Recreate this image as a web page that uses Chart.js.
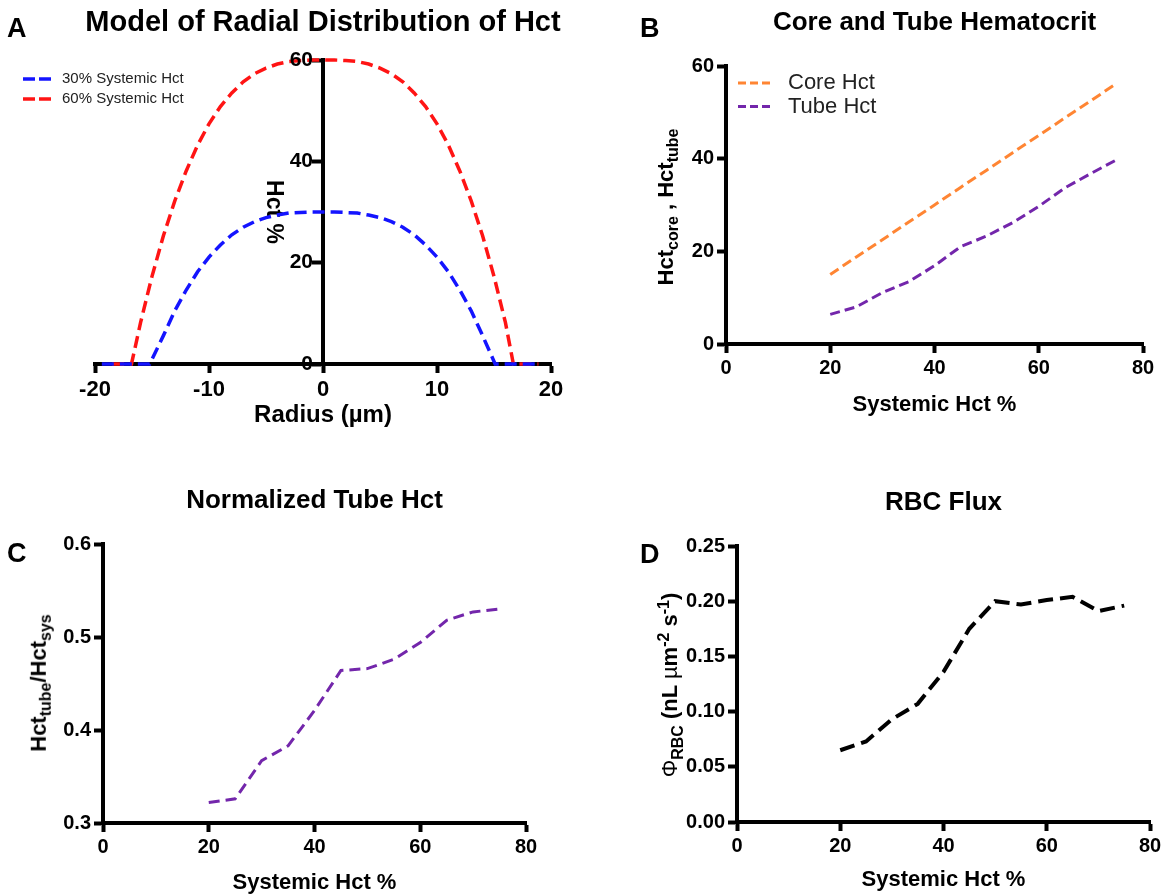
<!DOCTYPE html>
<html>
<head>
<meta charset="utf-8">
<title>Radial distribution of Hct</title>
<script src="https://cdn.jsdelivr.net/npm/chart.js@4.4.1/dist/chart.umd.min.js"></script>
<style>
  body { margin: 0; background: #fff; }
  #figure { position: relative; width: 1165px; height: 895px; overflow: hidden;
    font-family: "Liberation Sans", Arial, sans-serif; color: #000; }
  #figure canvas { position: absolute; }
  .letter { position: absolute; font-weight: bold; font-size: 27px; line-height: 1; }
  .ttl { position: absolute; font-weight: bold; font-size: 29px; line-height: 1; text-align: center; white-space: nowrap; }
  .ytitle { position: absolute; transform: translate(-50%, -50%) rotate(-90deg); white-space: nowrap;
    font-weight: bold; font-size: 22px; line-height: 1; }
  .ytitle sub, .ytitle sup { font-size: 16px; }
  .reg { font-weight: normal; }
</style>
</head>
<body>
<div id="figure">
  <canvas id="chart-a" width="600" height="430" style="left:0;top:0"></canvas>
  <canvas id="chart-b" width="565" height="430" style="left:600px;top:0"></canvas>
  <canvas id="chart-c" width="580" height="445" style="left:0;top:450px"></canvas>
  <canvas id="chart-d" width="565" height="445" style="left:600px;top:450px"></canvas>

  <div class="letter" style="left:7px;top:15px">A</div>
  <div class="letter" style="left:640px;top:15px">B</div>
  <div class="letter" style="left:7px;top:540px">C</div>
  <div class="letter" style="left:640px;top:541px">D</div>

  <div class="ttl" style="left:0;width:646px;top:7px">Model of Radial Distribution of Hct</div>

  <div class="ytitle" style="left:668px;top:207px">Hct<sub>core</sub> , Hct<sub>tube</sub></div>
  <div class="ytitle" style="left:41px;top:683px">Hct<sub>tube</sub>/Hct<sub>sys</sub></div>
  <div class="ytitle" style="left:671px;top:685px"><span class="reg">&Phi;</span><sub>RBC</sub> (nL <span class="reg">&micro;</span>m<sup>-2</sup> s<sup>-1</sup>)</div>
</div>

<script>
// panel A - radial profile, radius in um, Hct in %
const radius30 = [-19.4, -15.2, -14, -13, -12, -11, -10, -9, -8, -7, -6, -5, -4, -3, -2, -1,
  0, 1, 2, 3, 4, 5, 6, 7, 8, 9, 10, 11, 12, 13, 14, 15.1, 18.9];
const hct30 = [0, 0, 5.6, 10.5, 14.6, 18.2, 21.1, 23.5, 25.5, 27.0, 28.1, 28.9, 29.4, 29.8, 29.9, 30.0,
  30.0, 30.0, 29.9, 29.8, 29.4, 28.9, 28.1, 27.0, 25.5, 23.5, 21.1, 18.2, 14.6, 10.5, 5.6, 0, 0];
const radius60 = [-18.5, -16.8, -16, -15, -14, -13, -12, -11, -10, -9, -8, -7, -6, -5, -4, -3, -2, -1,
  0, 1, 2, 3, 4, 5, 6, 7, 8, 9, 10, 11, 12, 13, 14, 15, 16, 16.7, 18.9];
const hct60 = [0, 0, 8.2, 17.3, 25.3, 32.2, 38.1, 43.2, 47.4, 50.8, 53.5, 55.7, 57.3, 58.4, 59.2, 59.7, 59.9, 60.0,
  60.0, 60.0, 59.9, 59.7, 59.2, 58.4, 57.3, 55.7, 53.5, 50.8, 47.4, 43.2, 38.1, 32.2, 25.3, 17.3, 8.2, 0, 0];

// panels B-D - vs systemic Hct %
const systemicHct = [20, 25, 30, 35, 40, 45, 50, 55, 60, 65, 70, 75];
const coreHct = [15.0, 18.8, 22.5, 26.3, 30.0, 33.8, 37.5, 41.3, 45.0, 48.8, 52.5, 56.3];
const tubeHct = [6.4, 8.0, 11.1, 13.4, 16.9, 21.0, 23.3, 26.2, 29.7, 33.7, 36.8, 39.8];
const normTubeHct = [0.322, 0.326, 0.367, 0.383, 0.421, 0.464, 0.466, 0.476, 0.494, 0.518, 0.527, 0.530];
const rbcFlux = [0.065, 0.073, 0.093, 0.107, 0.136, 0.175, 0.200, 0.197, 0.201, 0.204, 0.191, 0.196];

const FONT = '"Liberation Sans", Arial, sans-serif';
Chart.defaults.font.family = FONT;
Chart.defaults.color = '#000';

const xy = (xs, ys) => xs.map((x, i) => ({ x: x, y: ys[i] }));

// legend drawn inside the plot, like the prism figure
const insetLegend = {
  id: 'insetLegend',
  afterDraw(chart, args, opts) {
    const ctx = chart.ctx;
    ctx.save();
    chart.data.datasets.forEach((ds, i) => {
      const y = opts.y + i * opts.rowGap;
      ctx.strokeStyle = ds.borderColor;
      ctx.lineWidth = opts.lineWidth;
      ctx.setLineDash(opts.dash);
      ctx.beginPath();
      ctx.moveTo(opts.x, y);
      ctx.lineTo(opts.x + opts.lineLen, y);
      ctx.stroke();
      ctx.setLineDash([]);
      ctx.fillStyle = '#222';
      ctx.font = opts.fontSize + 'px ' + FONT;
      ctx.textBaseline = 'middle';
      ctx.fillText(ds.label, opts.x + opts.lineLen + opts.textGap, y);
    });
    ctx.restore();
  }
};

// y labels for the axis that sits at radius 0 (chart.js puts them on the line)
const centerAxisLabels = {
  id: 'centerAxisLabels',
  afterDraw(chart, args, opts) {
    const ys = chart.scales.y;
    const x0 = chart.scales.x.getPixelForValue(0);
    const ctx = chart.ctx;
    ctx.save();
    ctx.fillStyle = '#000';
    ctx.font = 'bold ' + opts.fontSize + 'px ' + FONT;
    ctx.textAlign = 'right';
    ctx.textBaseline = 'middle';
    ys.ticks.forEach((t) => {
      ctx.fillText(String(t.value), x0 - opts.offset, ys.getPixelForValue(t.value));
    });
    ctx.restore();
  }
};

const border = { display: true, width: 4, color: '#000' };
const grid = { drawOnChartArea: false, drawTicks: true, tickLength: 9, tickWidth: 4, tickColor: '#000' };
const tickFont = { size: 20, weight: 'bold' };
const axisTitleFont = { size: 22, weight: 'bold' };
const base = { responsive: false, animation: false, devicePixelRatio: 1 };

new Chart(document.getElementById('chart-a'), {
  type: 'line',
  data: {
    datasets: [
      { label: '30% Systemic Hct', data: xy(radius30, hct30), borderColor: '#1414ff', borderWidth: 3.5,
        borderDash: [12, 6], pointRadius: 0, tension: 0, clip: false },
      { label: '60% Systemic Hct', data: xy(radius60, hct60), borderColor: '#ff1414', borderWidth: 3.5,
        borderDash: [12, 6], pointRadius: 0, tension: 0, clip: false },
    ],
  },
  options: {
    ...base,
    layout: { padding: { left: 95, right: 49, top: 60, bottom: 0 } },
    plugins: {
      legend: { display: false },
      tooltip: { enabled: false },
      insetLegend: { x: 23, y: 79, rowGap: 20, lineLen: 28, textGap: 11, fontSize: 15, lineWidth: 3.5, dash: [12, 4] },
      centerAxisLabels: { fontSize: 21, offset: 10 },
    },
    scales: {
      x: {
        type: 'linear', min: -20, max: 20,
        border: border, grid: grid,
        ticks: { stepSize: 10, padding: 4, font: { size: 22, weight: 'bold' } },
        title: { display: true, text: 'Radius (\u00b5m)', font: { size: 24, weight: 'bold' }, padding: { top: 0, bottom: 0 } },
        afterFit: (s) => { s.height = 66; },
      },
      y: {
        position: { x: 0 }, min: 0, max: 60,
        border: border, grid: grid,
        ticks: { stepSize: 20, display: false },
        title: { display: true, text: 'Hct %', font: { size: 23, weight: 'bold' }, padding: { top: 0, bottom: 1 } },
        afterFit: (s) => { s.width = 64; },
      },
    },
  },
  plugins: [insetLegend, centerAxisLabels],
});

new Chart(document.getElementById('chart-b'), {
  type: 'line',
  data: {
    datasets: [
      { label: 'Core Hct', data: xy(systemicHct, coreHct), borderColor: '#ff8533', borderWidth: 3,
        borderDash: [10, 5], pointRadius: 0, tension: 0 },
      { label: 'Tube Hct', data: xy(systemicHct, tubeHct), borderColor: '#7326ab', borderWidth: 3,
        borderDash: [10, 5], pointRadius: 0, tension: 0 },
    ],
  },
  options: {
    ...base,
    layout: { padding: { left: 66, right: 22, top: 0, bottom: 0 } },
    plugins: {
      legend: { display: false },
      tooltip: { enabled: false },
      title: { display: true, fullSize: false, text: 'Core and Tube Hematocrit',
        font: { size: 26, weight: 'bold' }, padding: { top: 7, bottom: 27.8 } },
      insetLegend: { x: 138, y: 83, rowGap: 23.5, lineLen: 32, textGap: 18, fontSize: 22, lineWidth: 3, dash: [8, 4] },
    },
    scales: {
      x: {
        type: 'linear', min: 0, max: 80,
        border: border, grid: grid,
        ticks: { stepSize: 20, font: tickFont },
        title: { display: true, text: 'Systemic Hct %', font: axisTitleFont, padding: { top: 0, bottom: 12 } },
        afterFit: (s) => { s.height = 86; },
      },
      y: {
        min: 0, max: 60,
        border: border, grid: grid,
        ticks: { stepSize: 20, font: tickFont },
        afterFit: (s) => { s.width = 60; },
      },
    },
  },
  plugins: [insetLegend],
});

new Chart(document.getElementById('chart-c'), {
  type: 'line',
  data: {
    datasets: [
      { label: 'Normalized Tube Hct', data: xy(systemicHct, normTubeHct), borderColor: '#7326ab', borderWidth: 3,
        borderDash: [11, 6], pointRadius: 0, tension: 0 },
    ],
  },
  options: {
    ...base,
    layout: { padding: { left: 43, right: 54, top: 0, bottom: 0 } },
    plugins: {
      legend: { display: false },
      tooltip: { enabled: false },
      title: { display: true, fullSize: false, text: 'Normalized Tube Hct',
        font: { size: 26, weight: 'bold' }, padding: { top: 35.4, bottom: 27.4 } },
    },
    scales: {
      x: {
        type: 'linear', min: 0, max: 80,
        border: border, grid: grid,
        ticks: { stepSize: 20, font: tickFont },
        title: { display: true, text: 'Systemic Hct %', font: axisTitleFont, padding: { top: 0, bottom: -1 } },
        afterFit: (s) => { s.height = 72; },
      },
      y: {
        min: 0.3, max: 0.6,
        border: border, grid: grid,
        ticks: { stepSize: 0.1, font: tickFont, callback: (v) => v.toFixed(1) },
        afterFit: (s) => { s.width = 60; },
      },
    },
  },
});

new Chart(document.getElementById('chart-d'), {
  type: 'line',
  data: {
    datasets: [
      { label: 'RBC Flux', data: xy(systemicHct, rbcFlux), borderColor: '#000', borderWidth: 4,
        borderDash: [15, 7], pointRadius: 0, tension: 0 },
    ],
  },
  options: {
    ...base,
    layout: { padding: { left: 67, right: 15, top: 0, bottom: 0 } },
    plugins: {
      legend: { display: false },
      tooltip: { enabled: false },
      title: { display: true, fullSize: false, text: 'RBC Flux',
        font: { size: 26, weight: 'bold' }, padding: { top: 37, bottom: 27.8 } },
    },
    scales: {
      x: {
        type: 'linear', min: 0, max: 80,
        border: border, grid: grid,
        ticks: { stepSize: 20, font: tickFont },
        title: { display: true, text: 'Systemic Hct %', font: axisTitleFont, padding: { top: 0, bottom: 2 } },
        afterFit: (s) => { s.height = 73; },
      },
      y: {
        min: 0, max: 0.25,
        border: border, grid: grid,
        ticks: { stepSize: 0.05, font: tickFont, callback: (v) => v.toFixed(2) },
        afterFit: (s) => { s.width = 70; },
      },
    },
  },
});
</script>
</body>
</html>
